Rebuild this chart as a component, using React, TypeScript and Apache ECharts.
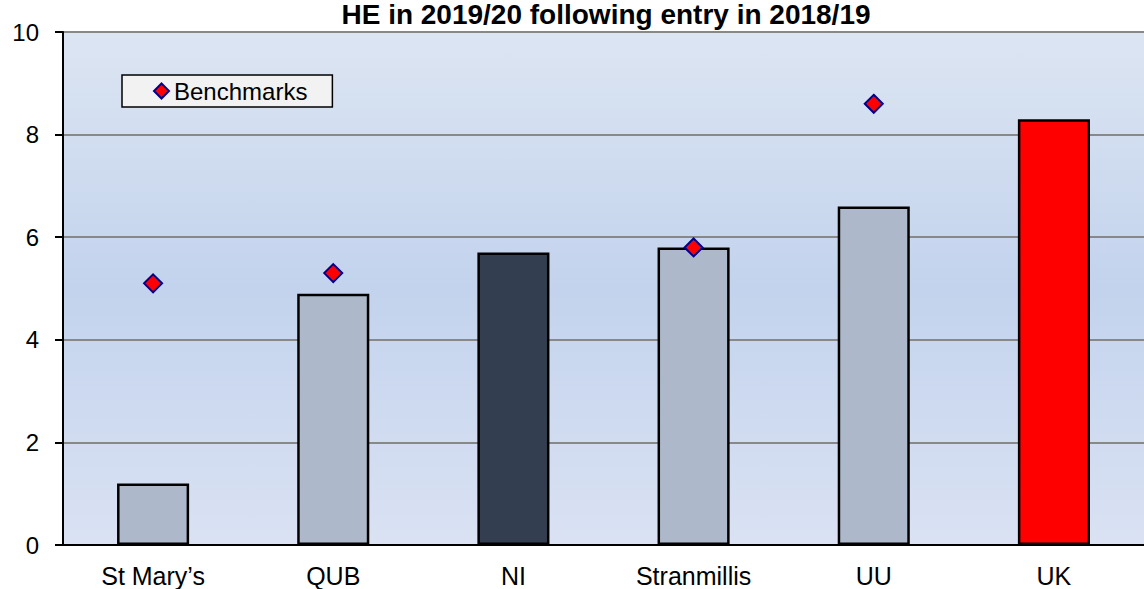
import React, { useEffect, useRef } from "react";
import * as echarts from "echarts";

const categories = ["St Mary\u2019s", "QUB", "NI", "Stranmillis", "UU", "UK"];
const barValues = [1.2, 4.9, 5.7, 5.8, 6.6, 8.3];
const benchmarkValues: (number | null)[] = [5.1, 5.3, null, 5.8, 8.6, null];
const barColors = ["#adb9ca", "#adb9ca", "#333f50", "#adb9ca", "#adb9ca", "#ff0000"];
const yTicks = { min: 0, max: 10, interval: 2 };

export default function App() {
  const ref = useRef<HTMLDivElement>(null);
  useEffect(() => {
    if (!ref.current) return;
    const chart = echarts.init(ref.current, null, { renderer: "svg" });
    const font = "'Liberation Sans', Arial, sans-serif";
    chart.setOption({
      animation: false,
      title: {
        text: "HE in 2019/20 following entry in 2018/19",
        left: 606,
        textAlign: "center",
        top: 0,
        padding: 0,
        textStyle: { fontFamily: font, fontSize: 28, fontWeight: "bold", color: "#000", lineHeight: 28 },
      },
      legend: {
        left: 122,
        top: 75,
        data: ["Benchmarks"],
        backgroundColor: "#f2f2f2",
        borderColor: "#000",
        borderWidth: 1.5,
        borderRadius: 0,
        padding: [4, 25, 4, 31],
        itemWidth: 15,
        itemHeight: 15,
        itemGap: 2,
        textStyle: { fontFamily: font, fontSize: 24, color: "#000" },
      },
      grid: {
        left: 63,
        right: -10,
        top: 32,
        bottom: 44,
        show: true,
        borderWidth: 0,
        backgroundColor: new echarts.graphic.LinearGradient(0, 0, 0, 1, [
          { offset: 0, color: "#dce5f2" },
          { offset: 0.5, color: "#c3d3ed" },
          { offset: 1, color: "#dae2f3" },
        ]),
      },
      xAxis: {
        type: "category",
        data: categories,
        axisLine: { show: true, lineStyle: { color: "#000", width: 2 } },
        axisTick: { show: false },
        axisLabel: { fontFamily: font, fontSize: 25, color: "#000", margin: 18 },
      },
      yAxis: {
        type: "value",
        min: yTicks.min,
        max: yTicks.max,
        interval: yTicks.interval,
        axisLine: { show: true, lineStyle: { color: "#000", width: 2 } },
        axisTick: { show: true, length: 8, lineStyle: { color: "#000", width: 2 } },
        axisLabel: { fontFamily: font, fontSize: 24, color: "#000", margin: 24 },
        splitLine: { show: true, lineStyle: { color: "#888", width: 2 } },
      },
      series: [
        {
          type: "bar",
          barWidth: "40%",
          data: barValues.map((v, i) => ({
            value: v,
            itemStyle: { color: barColors[i] },
          })),
          itemStyle: { borderColor: "#000", borderWidth: 2.5 },
          z: 2,
        },
        {
          name: "Benchmarks",
          type: "scatter",
          symbol: "diamond",
          symbolSize: 18,
          data: benchmarkValues,
          itemStyle: { color: "#ff0000", borderColor: "#00008b", borderWidth: 2, opacity: 1 },
          z: 3,
        },
      ],
    });
    return () => chart.dispose();
  }, []);
  return (
    <div
      ref={ref}
      style={{ position: "fixed", left: 0, top: 0, width: 1144, height: 589, background: "#fff" }}
    />
  );
}
